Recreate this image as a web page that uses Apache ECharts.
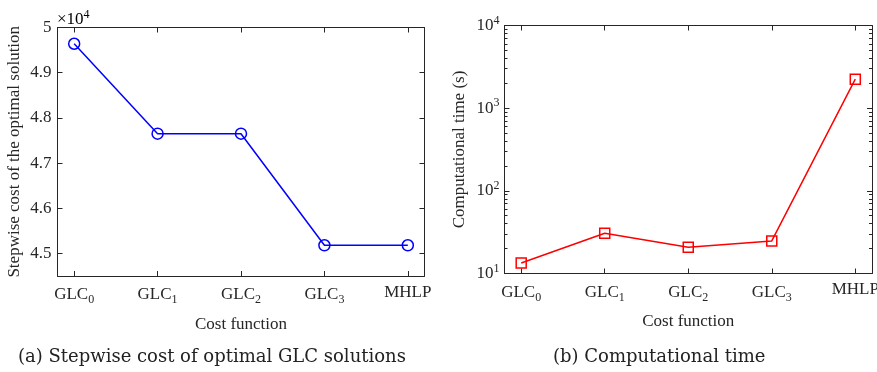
<!DOCTYPE html>
<html>
<head>
<meta charset="utf-8">
<script src="https://cdn.jsdelivr.net/npm/echarts@6/dist/echarts.min.js"></script>
<style>
  html, body { margin: 0; padding: 0; background: #fff; }
  #chart { width: 877px; height: 372px; }
</style>
</head>
<body>
<div id="chart"></div>
<script>
// Cost-function labels (text after "_" is drawn as a subscript)
const categories = ['GLC_0', 'GLC_1', 'GLC_2', 'GLC_3', 'MHLP'];
// Stepwise cost of the optimal solution
const costValues = [49640, 47650, 47650, 45180, 45180];
// Computational time in seconds
const timeValues = [13.4, 30.7, 20.8, 24.8, 2240];
// Tick values
const costTicks = [45000, 46000, 47000, 48000, 49000, 50000];
const timeTicks = [10, 100, 1000, 10000];
const categoryTicks = [0, 1, 2, 3, 4];

const timeMinorTicks = [];
for (let d = 10; d < 10000; d *= 10) {
  for (let k = 2; k <= 9; k++) timeMinorTicks.push(k * d);
}

const FONT = '"Liberation Serif", "Times New Roman", serif';
const CAPTION_FONT = '"DejaVu Serif", serif';
const AX = '#262626';

const richText = {
  b: { fontFamily: FONT, fontSize: 17, color: AX },
  s: { fontFamily: FONT, fontSize: 12, color: AX, padding: [10, 0, 0, 0] },
  e: { fontFamily: FONT, fontSize: 12, color: AX, padding: [0, 0, 10, 0] }
};

function categoryLabel(v) {
  const name = categories[Math.round(v)];
  if (name === undefined) return '';
  const parts = name.split('_');
  return parts.length > 1 ? '{b|' + parts[0] + '}{s|' + parts[1] + '}' : '{b|' + name + '}';
}
function costLabel(v) {
  const x = v / 10000;
  return '{b|' + (Math.abs(x - Math.round(x)) < 1e-9 ? String(Math.round(x)) : x.toFixed(1)) + '}';
}
function powerLabel(v) {
  return '{b|10}{e|' + Math.round(Math.log10(v)) + '}';
}

function xAxisPair(gridIndex) {
  const base = {
    type: 'value', gridIndex: gridIndex, min: -0.2, max: 4.2,
    splitLine: { show: false },
    axisLine: { show: true, onZero: false, lineStyle: { color: AX, width: 1 } },
    axisTick: { show: true, inside: true, length: 5, customValues: categoryTicks, lineStyle: { color: AX } }
  };
  return [
    Object.assign({}, base, {
      position: 'bottom',
      name: 'Cost function', nameLocation: 'middle', nameGap: 40,
      nameTextStyle: { fontFamily: FONT, fontSize: 17, color: AX },
      axisLabel: { show: true, margin: 8, customValues: categoryTicks, formatter: categoryLabel, rich: richText }
    }),
    Object.assign({}, base, { position: 'top', axisLabel: { show: false } })
  ];
}

const costAxisBase = {
  type: 'value', gridIndex: 0, min: 44500, max: 50000,
  splitLine: { show: false },
  axisLine: { show: true, onZero: false, lineStyle: { color: AX, width: 1 } },
  axisTick: { show: true, inside: true, length: 5, customValues: costTicks, lineStyle: { color: AX } }
};
const timeAxisBase = {
  type: 'log', logBase: 10, gridIndex: 1, min: 10, max: 10000,
  splitLine: { show: false },
  axisLine: { show: true, onZero: false, lineStyle: { color: AX, width: 1 } },
  axisTick: { show: true, inside: true, length: 5, customValues: timeTicks, lineStyle: { color: AX } },
  axisLabel: { show: false }
};
const timeMinorBase = Object.assign({}, timeAxisBase, {
  axisLine: { show: false, onZero: false },
  axisTick: { show: true, inside: true, length: 3, customValues: timeMinorTicks, lineStyle: { color: AX } }
});

const option = {
  animation: false,
  backgroundColor: '#fff',
  grid: [
    { left: 57.5, right: 452.5, top: 27.5, bottom: 96, outerBoundsMode: 'none', containLabel: false },
    { left: 504.5, right: 5, top: 25.5, bottom: 98.5, outerBoundsMode: 'none', containLabel: false }
  ],
  xAxis: xAxisPair(0).concat(xAxisPair(1)),
  yAxis: [
    Object.assign({}, costAxisBase, {
      position: 'left',
      name: 'Stepwise cost of the optimal solution', nameLocation: 'middle', nameGap: 34,
      nameTextStyle: { fontFamily: FONT, fontSize: 17, color: AX },
      axisLabel: { show: true, margin: 6, customValues: costTicks, formatter: costLabel, rich: richText }
    }),
    Object.assign({}, costAxisBase, { position: 'right', axisLabel: { show: false } }),
    Object.assign({}, timeAxisBase, {
      position: 'left',
      name: 'Computational time (s)', nameLocation: 'middle', nameGap: 36,
      nameTextStyle: { fontFamily: FONT, fontSize: 17, color: AX },
      axisLabel: { show: true, margin: 5, customValues: timeTicks, formatter: powerLabel, rich: richText }
    }),
    Object.assign({}, timeAxisBase, { position: 'right' }),
    Object.assign({}, timeMinorBase, { position: 'left' }),
    Object.assign({}, timeMinorBase, { position: 'right' })
  ],
  graphic: [
    {
      type: 'text', left: 57, top: 9,
      style: { text: '{b|\u00d710}{e|4}', rich: richText }
    },
    {
      type: 'text', left: 18, top: 348,
      style: { text: '(a) Stepwise cost of optimal GLC solutions', fontFamily: CAPTION_FONT, fontSize: 18, fill: '#222' }
    },
    {
      type: 'text', left: 553, top: 348,
      style: { text: '(b) Computational time', fontFamily: CAPTION_FONT, fontSize: 18, fill: '#222' }
    }
  ],
  series: [
    {
      type: 'line', xAxisIndex: 0, yAxisIndex: 0,
      data: costValues.map((v, i) => [i, v]),
      symbol: 'circle', symbolSize: 11,
      lineStyle: { color: '#0000ff', width: 1.5 },
      itemStyle: { color: 'rgba(0,0,0,0)', borderColor: '#0000ff', borderWidth: 1.5 }
    },
    {
      type: 'line', xAxisIndex: 2, yAxisIndex: 2,
      data: timeValues.map((v, i) => [i, v]),
      symbol: 'rect', symbolSize: 10,
      lineStyle: { color: '#ff0000', width: 1.5 },
      itemStyle: { color: 'rgba(0,0,0,0)', borderColor: '#ff0000', borderWidth: 1.5 }
    }
  ]
};

const chart = echarts.init(document.getElementById('chart'), null, { renderer: 'canvas' });
chart.setOption(option);
</script>
</body>
</html>
